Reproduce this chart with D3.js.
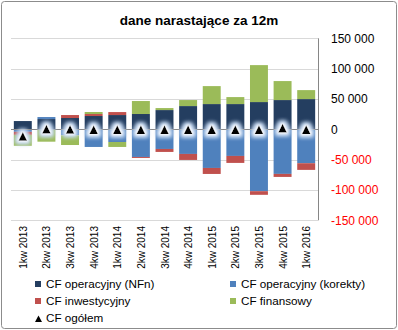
<!DOCTYPE html>
<html><head><meta charset="utf-8">
<script src="https://cdn.jsdelivr.net/npm/d3@7"></script>
<style>
html,body{margin:0;padding:0;background:#fff;}
svg{display:block;font-family:"Liberation Sans",Arial,sans-serif;}
</style></head>
<body><svg id="c" width="398" height="330"></svg>
<script>
const categories = ["1kw 2013","2kw 2013","3kw 2013","4kw 2013","1kw 2014","2kw 2014","3kw 2014","4kw 2014","1kw 2015","2kw 2015","3kw 2015","4kw 2015","1kw 2016"];
const cfNFn      = [13600, 16900, 18600, 21900, 23500, 25200, 31700, 38300, 41600, 41600, 44900, 48200, 49800];
const cfKorekty  = [-4200, 3300, -9900, -29100, -20900, -45600, -32400, -40600, -63700, -43900, -102000, -73500, -55900];
const cfInwest   = [-5000, 0, 4900, 3300, 4900, -1600, -4900, -9900, -9900, -11500, -6000, -5000, -11000];
const cfFinans   = [-18000, -20400, -16000, 3300, -8200, 21400, 3300, 9900, 29600, 11500, 60900, 31300, 14800];
const cfOgolem   = [-12000, 0, -500, -1000, -1000, -1000, -1000, -1000, -1000, -1000, -1000, 1500, -1000];
const yTicks = [150000, 100000, 50000, 0, -50000, -100000, -150000];
const seriesNames = ["CF operacyjny (NFn)","CF operacyjny (korekty)","CF inwestycyjny","CF finansowy","CF ogółem"];
const colors = ["#243E60","#4F81BD","#C0504D","#9BBB59"];

const svg = d3.select("#c");
const defs = svg.append("defs");
const f = defs.append("filter").attr("id","glow").attr("x","-150%").attr("y","-150%").attr("width","400%").attr("height","400%");
f.append("feMorphology").attr("in","SourceAlpha").attr("operator","dilate").attr("radius",2.5).attr("result","d");
f.append("feGaussianBlur").attr("in","d").attr("stdDeviation",2.2).attr("result","b");
f.append("feFlood").attr("flood-color","#c6d9f1").attr("flood-opacity",1).attr("result","fc");
f.append("feComposite").attr("in","fc").attr("in2","b").attr("operator","in").attr("result","g1");
f.append("feMorphology").attr("in","SourceAlpha").attr("operator","dilate").attr("radius",1).attr("result","d2");
f.append("feGaussianBlur").attr("in","d2").attr("stdDeviation",1.2).attr("result","b2");
f.append("feFlood").attr("flood-color","#ffffff").attr("result","fw");
f.append("feComposite").attr("in","fw").attr("in2","b2").attr("operator","in").attr("result","g2");
const m = f.append("feMerge");
m.append("feMergeNode").attr("in","g1");
m.append("feMergeNode").attr("in","g1");
m.append("feMergeNode").attr("in","g2");
m.append("feMergeNode").attr("in","SourceGraphic");

// border
svg.append("rect").attr("x",1.5).attr("y",1.5).attr("width",395).attr("height",327)
  .attr("rx",3).attr("fill","#fff").attr("stroke","#8c8c8c").attr("stroke-width",1);

const x = d3.scaleBand().domain(categories).range([11,318]).paddingInner(0.24).paddingOuter(0.12);
const y = d3.scaleLinear().domain([-150000,150000]).range([220.3,38.3]);

// gridlines
svg.append("g").selectAll("line").data(yTicks.filter(d=>d!==0)).join("line")
  .attr("x1",11).attr("x2",318).attr("y1",d=>Math.round(y(d))+0.5).attr("y2",d=>Math.round(y(d))+0.5)
  .attr("stroke","#d9d9d9").attr("stroke-width",1);

// title
svg.append("text").attr("x",199).attr("y",25).attr("text-anchor","middle")
  .attr("font-size",13.5).attr("font-weight","bold").attr("fill","#000").text("dane narastające za 12m");

// stacked bars
const rows = categories.map((c,i)=>({cat:c, s0:cfNFn[i], s1:cfKorekty[i], s2:cfInwest[i], s3:cfFinans[i]}));
const stack = d3.stack().keys(["s0","s1","s2","s3"]).offset(d3.stackOffsetDiverging);
const layers = stack(rows);
svg.append("g").selectAll("g").data(layers).join("g").attr("fill",(d,i)=>colors[i])
  .selectAll("rect").data(d=>d).join("rect")
  .attr("x",d=>x(d.data.cat)).attr("width",x.bandwidth())
  .attr("y",d=>y(Math.max(d[0],d[1]))).attr("height",d=>Math.abs(y(d[0])-y(d[1])));

// zero line and right axis
svg.append("line").attr("x1",11).attr("x2",318).attr("y1",Math.round(y(0))+0.5).attr("y2",Math.round(y(0))+0.5)
  .attr("stroke","#868686").attr("stroke-width",1);
svg.append("line").attr("x1",318.5).attr("x2",318.5).attr("y1",y(150000)).attr("y2",y(-150000))
  .attr("stroke","#868686").attr("stroke-width",1);

// markers
svg.append("g").attr("filter","url(#glow)").selectAll("path").data(categories).join("path")
  .attr("d",(c,i)=>{const cx=x(c)+x.bandwidth()/2, cy=y(cfOgolem[i]);
    return `M${cx-4.3},${cy+4.2}L${cx},${cy-4.6}L${cx+4.3},${cy+4.2}Z`;})
  .attr("fill","#000");

// y labels
const loc = d3.formatLocale({decimal:",",thousands:" ",grouping:[3],currency:["",""],minus:"-"});
const fmt = loc.format(",.0f");
svg.append("g").selectAll("text").data(yTicks).join("text")
  .attr("x",331).attr("y",d=>y(d)).attr("dy","0.36em").attr("font-size",12)
  .attr("fill",d=>d<0?"#ff0000":"#000").text(d=>fmt(d));

// x labels
svg.append("g").selectAll("text").data(categories).join("text")
  .attr("transform",d=>`translate(${x(d)+x.bandwidth()/2+0.5},226) rotate(-90)`)
  .attr("text-anchor","end").attr("dy","0.35em").attr("font-size",10).attr("fill","#000").text(d=>d);

// legend
const leg = [
  {i:0,x:35,y:288},{i:1,x:230,y:288},{i:2,x:35,y:305},{i:3,x:230,y:305},{i:4,x:35,y:322}
];
const lg = svg.append("g");
leg.forEach(l=>{
  if(l.i<4){
    lg.append("rect").attr("x",l.x).attr("y",l.y-7).attr("width",6).attr("height",6).attr("fill",colors[l.i]);
  } else {
    lg.append("path").attr("d",`M${l.x},${l.y}L${l.x+3.5},${l.y-6.5}L${l.x+7},${l.y}Z`).attr("fill","#000");
  }
  lg.append("text").attr("x",l.x+(l.i<4?11:11)).attr("y",l.y).attr("font-size",11.7).attr("fill","#000").text(seriesNames[l.i]);
});
</script></body></html>
